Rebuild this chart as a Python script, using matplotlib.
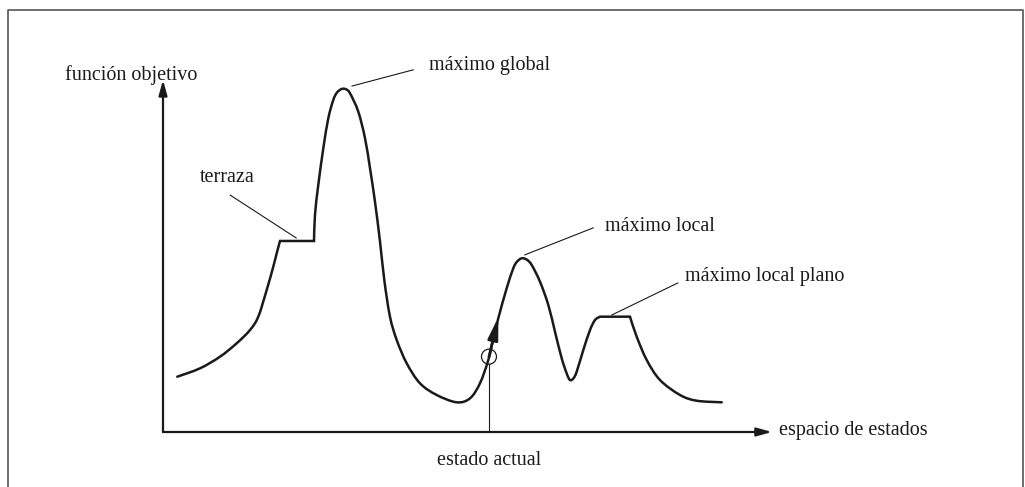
import matplotlib
matplotlib.use("Agg")
import matplotlib.pyplot as plt
import numpy as np
from matplotlib.patches import Ellipse, PathPatch
from matplotlib.path import Path

# landscape curve (state space x, objective value y)
curve_x = [2.38, 6.17, 9.5, 12.28, 14.5, 15.88, 17.28, 18.38, 18.95, 19.5, 25.17,
           25.33, 25.88, 26.72, 27.55, 28.38, 29.0, 29.78, 30.5, 31.17, 32.55, 33.67,
           34.5, 35.33, 36.17, 36.9, 37.83, 38.95, 40.62, 42.83, 45.62, 48.95,
           51.17, 52.83, 54.22, 55.0, 55.88, 57.28, 58.38, 59.0, 59.78, 60.6, 61.45,
           62.83, 64.22, 65.33, 66.45, 67.3, 67.83, 68.4, 68.95, 70.05, 71.17, 72.0,
           72.83, 77.83, 78.95, 80.62, 82.83, 86.17, 88.95, 93.12]
curve_y = [15.36, 17.69, 20.92, 24.64, 28.33, 32.03, 39.44, 45.92, 49.64, 53.06, 53.06,
           60.28, 68.61, 78.81, 87.14, 92.22, 94.3, 95.28, 95.2, 94.08, 88.97, 81.58,
           73.25, 63.97, 52.86, 42.0, 32.03, 25.56, 19.08, 13.53, 10.28, 8.25,
           9.36, 13.53, 20.0, 25.56, 31.58, 39.92, 45.47, 47.3, 48.25, 47.9, 46.39,
           41.75, 35.28, 27.86, 20.47, 16.2, 14.44, 14.9, 16.75, 22.78, 28.33, 31.1,
           32.03, 32.03, 26.47, 20.0, 14.44, 10.28, 8.69, 8.25]
# sharp corners: ends of the terrace and of the flat local maximum
corners = [9, 10, 54, 55]

current_state = (54.33, 20.92)
current_arrow_tip = (55.9, 31.9)

labels = ["máximo global", "terraza", "máximo local", "máximo local plano"]
label_pos = [(44.3, 101.7), (6.2, 70.6), (73.7, 57.2), (87.0, 43.3)]
leader_from = [(31.5, 96.1), (22.2, 53.9), (60.3, 49.2), (74.8, 32.5)]
leader_to = [(41.7, 100.6), (11.2, 65.8), (71.7, 56.7), (85.8, 41.4)]

plt.rcParams['font.family'] = ['Liberation Serif', 'DejaVu Serif']
ink = '#1a1a1a'
fs = 14.5


def smooth_path(xs, ys, breaks):
    # catmull-rom through the points, drawn as cubic beziers, kept sharp at breaks
    pts = np.column_stack([xs, ys])
    cuts = [0] + breaks + [len(pts) - 1]
    verts, codes = [pts[0]], [Path.MOVETO]
    for a, b in zip(cuts[:-1], cuts[1:]):
        seg = pts[a:b + 1]
        for i in range(len(seg) - 1):
            p0 = seg[i - 1] if i > 0 else seg[i]
            p1, p2 = seg[i], seg[i + 1]
            p3 = seg[i + 2] if i + 2 < len(seg) else seg[i + 1]
            verts += [p1 + (p2 - p0) / 6, p2 - (p3 - p1) / 6, p2]
            codes += [Path.CURVE4] * 3
    return Path(verts, codes)


fig = plt.figure(figsize=(10.25, 4.87), dpi=100)
ax = fig.add_axes([0, 0, 1, 1])
# 1 unit = 6 px horizontally, 3.6 px vertically
ax.set_xlim(-163 / 6, (1025 - 163) / 6)
ax.set_ylim(-55 / 3.6, 432 / 3.6)
ax.axis('off')

# frame
ax.plot([-25.8, -25.8, 143.3, 143.3], [-20, 117.3, 117.3, -20], color='#555555', lw=1.2)

# axes arrows
head = '-|>,head_length=0.9,head_width=0.25'
ax.annotate('', xy=(0, 97.8), xytext=(0, 0),
            arrowprops=dict(arrowstyle=head, color=ink, lw=1.6, shrinkA=0, shrinkB=0))
ax.annotate('', xy=(101.5, 0), xytext=(0, 0),
            arrowprops=dict(arrowstyle=head, color=ink, lw=1.6, shrinkA=0, shrinkB=0))
ax.text(-16.3, 99.2, "función objetivo", fontsize=fs, color=ink, ha='left', va='center')
ax.text(102.6, 0.3, "espacio de estados", fontsize=fs, color=ink, ha='left', va='center')

# landscape
ax.add_patch(PathPatch(smooth_path(curve_x, curve_y, corners), fill=False, edgecolor=ink,
                       lw=1.8, capstyle='round', joinstyle='miter'))

# current state
ax.add_patch(Ellipse(current_state, 15 / 6, 15 / 3.6, fill=False, color=ink, lw=0.9))
ax.plot([current_state[0], current_state[0]], [0, current_state[1] - 7.5 / 3.6], color=ink, lw=0.8)
ax.annotate('', xy=current_arrow_tip, xytext=current_state,
            arrowprops=dict(arrowstyle='-|>,head_length=1.3,head_width=0.3', color=ink, lw=2.0,
                            shrinkA=0, shrinkB=0))
ax.text(current_state[0], -7.8, "estado actual", fontsize=fs, color=ink, ha='center', va='center')

for lab, pos, a, b in zip(labels, label_pos, leader_from, leader_to):
    ax.plot([a[0], b[0]], [a[1], b[1]], color=ink, lw=0.8)
    ax.text(pos[0], pos[1], lab, fontsize=fs, color=ink, ha='left', va='center')

fig.savefig('out.png', dpi=100)
